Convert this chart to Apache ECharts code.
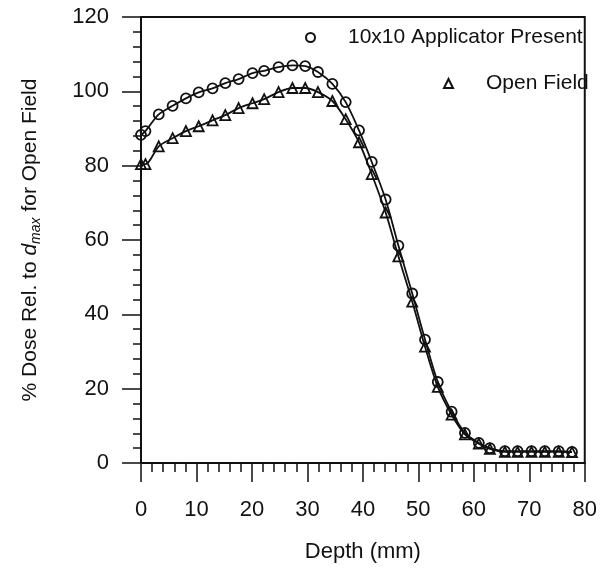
<!DOCTYPE html>
<html>
<head>
<meta charset="utf-8">
<script src="https://cdn.jsdelivr.net/npm/echarts@6/dist/echarts.min.js"></script>
<style>html,body{margin:0;padding:0;background:#fff;}#c{width:600px;height:577px;}</style>
</head>
<body>
<div id="c"></div>
<script>
// Depth (mm) of each measured point
const depth = [0, 0.8, 3.2, 5.7, 8.1, 10.4, 12.9, 15.2, 17.6, 20.1, 22.2, 24.8, 27.3, 29.6, 31.9, 34.5, 36.9, 39.3, 41.6, 44.1, 46.4, 48.9, 51.2, 53.5, 56.0, 58.4, 60.9, 62.9, 65.6, 67.9, 70.4, 72.8, 75.3, 77.7];
// % dose, 10x10 applicator present (circles)
const applicator = [88.3, 89.3, 93.8, 96.1, 98.1, 99.7, 100.8, 102.2, 103.3, 104.9, 105.5, 106.5, 107.0, 106.8, 105.2, 102.0, 97.1, 89.5, 81.0, 70.9, 58.5, 45.6, 33.2, 21.8, 13.8, 8.1, 5.4, 4.0, 3.2, 3.2, 3.2, 3.2, 3.2, 3.0];
// % dose, open field (triangles)
const openField = [80.4, 80.4, 85.2, 87.4, 89.3, 90.6, 92.2, 93.6, 95.5, 96.8, 97.9, 99.8, 100.9, 100.9, 99.8, 97.4, 92.5, 86.3, 77.7, 67.4, 55.6, 43.4, 31.3, 20.5, 13.0, 7.7, 5.2, 3.8, 3.0, 3.0, 3.0, 3.0, 3.0, 2.9];
const seriesNames = ['10x10 Applicator Present', 'Open Field'];
const xTicks = {min: 0, max: 80, interval: 10};
const yTicks = {min: 0, max: 120, interval: 20};

const FONT = 'Liberation Sans, Arial, Helvetica, sans-serif';
const INK = '#111';

function pairs(xs, ys) { return xs.map((x, i) => [x, ys[i]]); }

const chart = echarts.init(document.getElementById('c'), null, {renderer: 'canvas'});
chart.setOption({
  backgroundColor: '#fff',
  animation: false,
  grid: {left: 141, right: 12, top: 17, bottom: 114, show: true, borderColor: INK, borderWidth: 2, backgroundColor: 'transparent'},
  legend: [
    {data: [seriesNames[0]], left: 305, top: 27, padding: 0, icon: 'circle', itemWidth: 9, itemHeight: 9,
     selectedMode: false, textStyle: {fontFamily: FONT, fontSize: 21, color: INK, padding: [0, 0, 0, 28]}},
    {data: [seriesNames[1]], left: 443, top: 73, padding: 0, icon: 'triangle', itemWidth: 9, itemHeight: 9,
     selectedMode: false, textStyle: {fontFamily: FONT, fontSize: 21, color: INK, padding: [0, 0, 0, 28]}}
  ],
  xAxis: {
    type: 'value', min: xTicks.min, max: xTicks.max, interval: xTicks.interval,
    name: 'Depth (mm)', nameLocation: 'middle', nameGap: 78,
    nameTextStyle: {fontFamily: FONT, fontSize: 22, color: INK},
    axisLine: {lineStyle: {color: INK, width: 2}},
    axisTick: {show: true, inside: false, length: 19, lineStyle: {color: INK, width: 1.5}},
    minorTick: {show: true, splitNumber: 5, length: 9, lineStyle: {color: INK, width: 1.5}},
    splitLine: {show: false},
    axisLabel: {fontFamily: FONT, fontSize: 22, color: INK, margin: 36}
  },
  yAxis: {
    type: 'value', min: yTicks.min, max: yTicks.max, interval: yTicks.interval,
    name: '{a|% Dose Rel. to }{d|d}{s|max}{a| for Open Field}', nameLocation: 'middle', nameGap: 98, nameRotate: 90,
    nameTextStyle: {
      fontFamily: FONT, fontSize: 21, color: INK,
      rich: {
        a: {fontFamily: FONT, fontSize: 21, color: INK, lineHeight: 26},
        d: {fontFamily: FONT, fontSize: 21, color: INK, fontStyle: 'italic', lineHeight: 26},
        s: {fontFamily: FONT, fontSize: 14, color: INK, fontStyle: 'italic', lineHeight: 14, verticalAlign: 'bottom'}
      }
    },
    axisLine: {lineStyle: {color: INK, width: 2}},
    axisTick: {show: true, inside: false, length: 19, lineStyle: {color: INK, width: 1.5}},
    minorTick: {show: true, splitNumber: 5, length: 8, lineStyle: {color: INK, width: 1.5}},
    splitLine: {show: false},
    axisLabel: {fontFamily: FONT, fontSize: 22, color: INK, margin: 32}
  },
  series: [
    {
      name: seriesNames[0], type: 'line', data: pairs(depth, applicator), smooth: 0.3,
      symbol: 'circle', symbolSize: 10,
      itemStyle: {color: 'transparent', borderColor: INK, borderWidth: 1.8},
      lineStyle: {color: INK, width: 1.8}
    },
    {
      name: seriesNames[1], type: 'line', data: pairs(depth, openField), smooth: 0.3,
      symbol: 'triangle', symbolSize: 10,
      itemStyle: {color: 'transparent', borderColor: INK, borderWidth: 1.8},
      lineStyle: {color: INK, width: 1.8}
    }
  ]
});
</script>
</body>
</html>
